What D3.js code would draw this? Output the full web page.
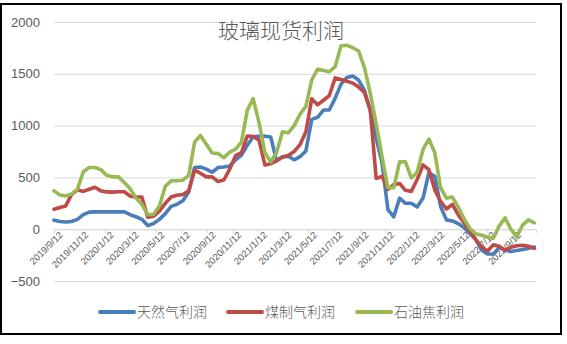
<!DOCTYPE html>
<html>
<head>
<meta charset="utf-8">
<script src="https://cdn.jsdelivr.net/npm/d3@7/dist/d3.min.js"></script>
<style>
  html, body { margin: 0; padding: 0; background: #fff; }
  svg { display: block; }
</style>
</head>
<body>
<svg id="chart" width="567" height="344"></svg>
<script>
// Biweekly observation dates (2019/9/12 onward)
const startDate = "2019-09-12";
const pointCount = 83;
const stepDays = 14;

// 天然气利润 (natural gas process)
const gasProfit = [
  87, 75, 70, 75, 95, 140, 165, 167, 167, 167,
  167, 167, 167, 140, 120, 95, 35, 55, 95, 150,
  220, 240, 275, 360, 595, 600, 580, 550, 595, 600,
  610, 670, 715, 810, 893, 897, 898, 890, 660, 700,
  705, 670, 700, 755, 1060, 1080, 1150, 1150, 1265, 1400,
  1465, 1478, 1440, 1340, 1140, 880, 640, 190, 120, 300,
  250, 250, 215, 300, 545, 510, 220, 90, 80, 55,
  15, -40, -100, -200, -240, -240, -175, -203, -215, -205,
  -195, -185, -172
];

// 煤制气利润 (coal gas process)
const coalProfit = [
  193, 210, 225, 335, 380, 365, 385, 405, 370, 360,
  358, 362, 362, 319, 312, 310, 115, 125, 175, 250,
  310, 328, 335, 370, 570, 540, 505, 505, 460, 475,
  580, 710, 740, 900, 895, 860, 620, 632, 660, 695,
  712, 750, 815, 940, 1260, 1200, 1245, 1290, 1460, 1445,
  1428, 1410, 1372, 1320, 1150, 490, 510, 385, 430, 441,
  375, 365, 480, 620, 575, 380, 270, 195, 240, 140,
  60, -15, -100, -170, -212, -150, -165, -203, -175, -160,
  -155, -165, -185
];

// 石油焦利润 (petroleum coke process)
const cokeProfit = [
  370, 330, 320, 340, 385, 555, 595, 595, 575, 520,
  505, 505, 450, 390, 300, 240, 140, 145, 225, 415,
  467, 467, 473, 520, 840, 905, 820, 735, 731, 690,
  745, 772, 840, 1150, 1260, 1030, 740, 650, 740, 940,
  930, 1000, 1110, 1185, 1440, 1545, 1532, 1520, 1570, 1770,
  1775, 1752, 1720, 1560, 1310, 1020, 700, 400, 400, 650,
  650, 495, 550, 770, 870, 740, 400, 300, 310, 215,
  100, 7, -45, -58, -75, -88, 30, 110, 0, -74,
  40, 90, 60
];

const seriesNames = ["天然气利润", "煤制气利润", "石油焦利润"];
const seriesColors = ["#4A7EBB", "#BE4B48", "#98B954"];
const yTicks = [-500, 0, 500, 1000, 1500, 2000];
const axisEnd = "2022-11-07";
const chartTitle = "玻璃现货利润";

const parse = d3.timeParse("%Y-%m-%d");
const t0 = parse(startDate);
const dates = d3.range(pointCount).map(i => d3.timeDay.offset(t0, i * stepDays));
const allSeries = [gasProfit, coalProfit, cokeProfit];

const svg = d3.select("#chart");
const plot = { left: 54, right: 536, top: 22, bottom: 281 };

const x = d3.scaleTime()
  .domain([t0, parse(axisEnd)])
  .range([plot.left, plot.right]);
const y = d3.scaleLinear()
  .domain([-500, 2000])
  .range([plot.bottom, plot.top]);

// x tick dates: the 12th of every other month
const xTickDates = d3.timeMonth.every(2)
  .range(d3.timeMonth.floor(t0), parse(axisEnd))
  .map(d => d3.timeDay.offset(d, 11))
  .filter(d => d >= t0 && d <= parse(axisEnd));

// outer frame
svg.append("rect")
  .attr("x", 1).attr("y", 4)
  .attr("width", 560).attr("height", 330)
  .attr("fill", "#fff")
  .attr("stroke", "#000")
  .attr("stroke-width", 2);

// horizontal gridlines and y labels
const yAxis = d3.axisLeft(y).tickValues(yTicks)
  .tickSize(-(plot.right - plot.left)).tickPadding(14)
  .tickFormat(d3.format("d"));
const gy = svg.append("g")
  .attr("transform", `translate(${plot.left},0)`)
  .call(yAxis);
gy.select(".domain").remove();
gy.selectAll(".tick line").attr("stroke", "#D9D9D9").attr("stroke-width", 1);
gy.selectAll(".tick text")
  .attr("fill", "#595959")
  .style("font-family", "'Liberation Sans', Arial, sans-serif")
  .style("font-size", "13px");

// category axis along zero
const xAxis = d3.axisBottom(x).tickValues(xTickDates)
  .tickSize(4).tickPadding(2)
  .tickFormat(d3.timeFormat("%Y/%-m/%-d"));
const gx = svg.append("g")
  .attr("transform", `translate(0,${y(0)})`)
  .call(xAxis);
gx.select(".domain").attr("stroke", "#D9D9D9");
gx.selectAll(".tick line").attr("stroke", "#D9D9D9");
gx.selectAll(".tick text")
  .attr("fill", "#595959")
  .style("font-family", "'Liberation Sans', Arial, sans-serif")
  .style("font-size", "9.5px")
  .attr("text-anchor", "end")
  .attr("dx", "0.2em")
  .attr("dy", "0.5em")
  .attr("transform", "rotate(-45)");

// series lines
const line = d3.line()
  .x((d, i) => x(dates[i]))
  .y(d => y(d))
  .curve(d3.curveLinear);

allSeries.forEach((vals, si) => {
  svg.append("path")
    .datum(vals)
    .attr("fill", "none")
    .attr("stroke", seriesColors[si])
    .attr("stroke-width", 3.6)
    .attr("stroke-linejoin", "round")
    .attr("stroke-linecap", "round")
    .attr("d", line);
});

// title
svg.append("text")
  .attr("x", 281).attr("y", 38)
  .attr("text-anchor", "middle")
  .attr("fill", "#595959")
  .style("font-family", "'Noto Sans CJK SC', sans-serif")
  .style("font-weight", 300)
  .style("font-size", "21px")
  .text(chartTitle);

// legend
const legendX = [100, 228, 357];
const legend = svg.append("g");
seriesNames.forEach((name, i) => {
  const g = legend.append("g").attr("transform", `translate(${legendX[i]},312)`);
  g.append("line")
    .attr("x1", 0).attr("x2", 34)
    .attr("y1", 0).attr("y2", 0)
    .attr("stroke", seriesColors[i])
    .attr("stroke-width", 4)
    .attr("stroke-linecap", "round");
  g.append("text")
    .attr("x", 37).attr("y", 5)
    .attr("fill", "#595959")
    .style("font-family", "'Noto Sans CJK SC', sans-serif")
    .style("font-weight", 300)
    .style("font-size", "14px")
    .text(name);
});
</script>
</body>
</html>
